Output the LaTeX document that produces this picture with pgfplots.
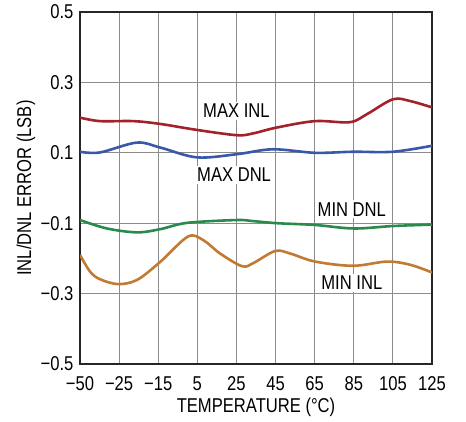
\documentclass[border=0pt]{standalone}
\usepackage{fontspec}
\setmainfont{Liberation Sans}[FakeStretch=0.83]
\usepackage{pgfplots}
\pgfplotsset{compat=1.18}
\definecolor{maxinl}{HTML}{A3212B}
\definecolor{maxdnl}{HTML}{3A58A8}
\definecolor{mindnl}{HTML}{2B8A4B}
\definecolor{mininl}{HTML}{C07A32}
\begin{document}
\begin{tikzpicture}[font=\fontsize{20}{23}\selectfont]
\begin{axis}[
    scale only axis,
    width=352pt, height=352pt,
    xmin=0, xmax=9, ymin=-0.5, ymax=0.5,
    xtick={0,...,9},
    xticklabels={−50,−25,−15,5,25,45,65,85,105,125},
    ytick={-0.5,-0.3,-0.1,0.1,0.3,0.5},
    yticklabels={−0.5,−0.3,−0.1,0.1,0.3,0.5},
    major tick length=0pt,
    grid=major,
    major grid style={color=black!45, line width=0.9pt},
    axis line style={color=black!85, line width=1.5pt},
    xticklabel style={anchor=center, yshift=-20pt},
    yticklabel style={anchor=east, xshift=-3pt},
    xlabel={TEMPERATURE (°C)},
    ylabel={INL/DNL ERROR (LSB)},
    xlabel style={at={(axis description cs:0.5,-0.122)}, anchor=center},
    ylabel style={at={(axis description cs:-0.1534,0.5)}, anchor=center},
    every axis plot/.append style={line width=2.6pt, no markers, smooth, tension=0.55},
    clip=true,
]
\addplot[maxinl] coordinates {(0,0.200)(0.51,0.190)(1.36,0.190)(2.05,0.182)(2.99,0.165)(4.01,0.150)(4.42,0.155)(5.04,0.172)(6.01,0.190)(6.9,0.187)(7.34,0.210)(8.0,0.252)(8.44,0.247)(9,0.229)};
\addplot[maxdnl] coordinates {(0,0.103)(0.51,0.101)(1.45,0.129)(2.05,0.115)(2.99,0.087)(4.01,0.096)(4.93,0.110)(6.01,0.100)(6.98,0.103)(8.0,0.103)(9,0.120)};
\addplot[mindnl] coordinates {(0,-0.091)(0.69,-0.115)(1.46,-0.126)(2.05,-0.117)(2.74,-0.099)(4.01,-0.091)(4.42,-0.094)(5.04,-0.100)(6.01,-0.105)(7.0,-0.115)(8.0,-0.108)(9,-0.104)};
\addplot[mininl] coordinates {(0,-0.190)(0.26,-0.238)(0.51,-0.259)(0.97,-0.273)(1.46,-0.261)(2.05,-0.210)(2.76,-0.138)(3.15,-0.148)(3.58,-0.186)(4.14,-0.222)(4.42,-0.214)(4.99,-0.179)(5.37,-0.186)(6.01,-0.209)(6.98,-0.221)(7.85,-0.209)(8.44,-0.218)(9,-0.240)};
\node[fill=white, inner sep=2pt] at (axis cs:4.0,0.219) {MAX INL};
\node[fill=white, inner sep=2pt] at (axis cs:3.94,0.037) {MAX DNL};
\node[fill=white, inner sep=2pt] at (axis cs:6.95,-0.06) {MIN DNL};
\node[fill=white, inner sep=2pt] at (axis cs:6.95,-0.27) {MIN INL};
\end{axis}
\pgfresetboundingbox
\path (current axis.south west) ++(-80pt,-57pt) rectangle ([xshift=34pt,yshift=12pt]current axis.north east);
\end{tikzpicture}
\end{document}
